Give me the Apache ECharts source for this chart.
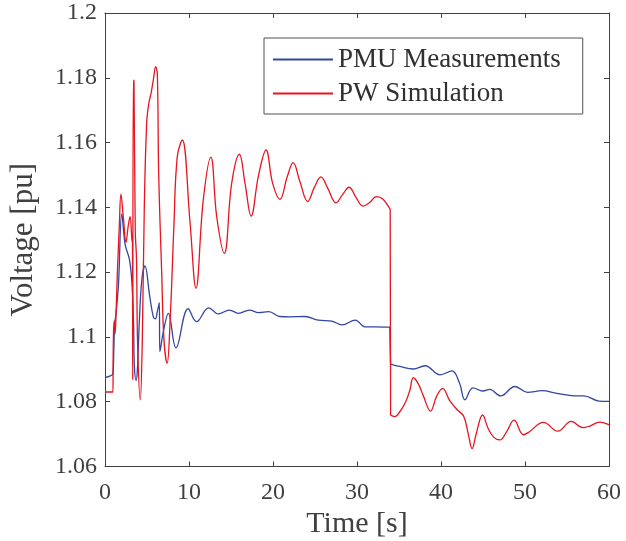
<!DOCTYPE html>
<html>
<head>
<meta charset="utf-8">
<script src="https://cdn.jsdelivr.net/npm/echarts@6/dist/echarts.min.js"></script>
<style>html,body{margin:0;padding:0;background:#fff;}#c{width:626px;height:541px;}</style>
</head>
<body>
<div id="c"></div>
<script>
// Data
const xTicks = [0, 10, 20, 30, 40, 50, 60];
const yTicks = [1.06, 1.08, 1.1, 1.12, 1.14, 1.16, 1.18, 1.2];
const seriesNames = ['PMU Measurements', 'PW Simulation'];

const pmuT = [0, 0.5, 0.95, 1.05, 1.15, 1.3, 1.6, 2.0, 2.4, 2.9, 3.2, 3.4, 3.5, 3.7, 3.85, 4.1, 4.4, 4.76, 5.3, 5.75, 6.0, 6.25, 6.4, 6.47, 6.52, 6.6, 6.94, 7.54, 8.45, 9.9, 10.9, 12.35, 13.5, 14.8, 15.9, 17.2, 18.3, 19.5, 20.8, 22.0, 23.8, 25.4, 27.0, 28.2, 29.8, 30.95, 32.3, 33.9, 33.95, 34.0, 34.05, 35.1, 36.7, 38.1, 39.9, 41.3, 42.2, 42.85, 43.8, 45.0, 45.8, 47.1, 48.8, 50.3, 52.0, 53.8, 55.9, 57.0, 58.8, 60];
const pmuV = [1.0875, 1.0878, 1.0887, 1.0960, 1.1040, 1.1070, 1.1160, 1.1380, 1.1285, 1.1240, 1.1170, 1.1040, 1.0909, 1.0866, 1.0896, 1.1055, 1.1180, 1.1219, 1.1130, 1.1062, 1.1056, 1.1081, 1.1098, 1.1106, 1.0955, 1.0962, 1.1015, 1.1073, 1.0966, 1.1087, 1.1047, 1.1090, 1.1071, 1.1083, 1.1073, 1.1083, 1.1075, 1.1078, 1.1063, 1.1062, 1.1063, 1.1052, 1.1049, 1.1037, 1.1052, 1.1031, 1.1031, 1.1030, 1.1030, 1.0916, 1.0915, 1.0909, 1.0901, 1.0911, 1.0883, 1.0895, 1.0858, 1.0806, 1.0843, 1.0833, 1.0838, 1.0818, 1.0847, 1.0829, 1.0834, 1.0826, 1.0818, 1.0818, 1.0802, 1.0801];

const pwT = [0, 0.95, 0.98, 1.0, 1.1, 1.2, 1.3, 1.47, 1.7, 1.9, 2.2, 2.5, 2.75, 2.98, 3.2, 3.27, 3.3, 3.37, 3.45, 3.6, 3.75, 3.88, 4.2, 4.44, 4.68, 4.96, 5.2, 5.48, 5.75, 6.03, 6.23, 6.39, 6.75, 7.02, 7.4, 7.74, 8.2, 8.6, 9.2, 10.1, 10.83, 11.7, 12.6, 13.3, 14.2, 15.08, 16.0, 16.67, 17.4, 18.25, 19.17, 19.96, 20.83, 21.7, 22.4, 23.2, 24.13, 24.9, 25.7, 26.5, 27.5, 28.3, 29.05, 29.9, 30.7, 31.5, 32.3, 33.1, 33.9, 33.95, 34.0, 34.05, 34.5, 35.1, 35.8, 36.3, 36.7, 37.3, 37.9, 38.75, 39.5, 40.2, 41.0, 41.9, 42.7, 43.25, 43.7, 44.2, 44.95, 45.6, 46.3, 47.0, 47.8, 48.7, 49.8, 50.4, 52.2, 53.9, 55.5, 56.9, 57.7, 58.9, 60];
const pwV = [1.083, 1.083, 1.083, 1.100, 1.105, 1.101, 1.106, 1.1197, 1.134, 1.1441, 1.1364, 1.1292, 1.134, 1.1371, 1.1302, 1.1290, 1.0867, 1.1793, 1.1790, 1.1330, 1.1240, 1.0980, 1.0806, 1.0991, 1.1404, 1.1660, 1.1719, 1.1752, 1.1793, 1.1834, 1.1813, 1.1505, 1.1197, 1.0991, 1.0919, 1.1043, 1.1340, 1.1556, 1.1608, 1.1361, 1.1150, 1.1423, 1.1555, 1.1371, 1.1258, 1.1474, 1.1564, 1.1474, 1.1373, 1.1495, 1.1577, 1.1474, 1.1425, 1.1495, 1.1538, 1.1480, 1.1418, 1.1460, 1.1494, 1.1460, 1.1414, 1.1440, 1.1462, 1.1430, 1.1404, 1.1415, 1.1433, 1.1425, 1.1396, 1.1392, 1.0759, 1.0758, 1.0754, 1.0769, 1.0800, 1.0836, 1.0874, 1.0855, 1.0818, 1.0771, 1.0818, 1.0841, 1.0805, 1.0776, 1.0755, 1.0700, 1.0655, 1.0702, 1.0759, 1.0718, 1.0690, 1.0682, 1.0707, 1.0743, 1.0698, 1.0705, 1.0736, 1.0709, 1.0739, 1.0720, 1.0725, 1.0737, 1.0729];

const FONT = 'Liberation Serif';
const AX = '#404040';

function zip(a, b) { return a.map((t, i) => [t, b[i]]); }
const xMin = xTicks[0], xMax = xTicks[xTicks.length - 1], xInt = xTicks[1] - xTicks[0];
const yMin = yTicks[0], yMax = yTicks[yTicks.length - 1], yInt = +(yTicks[1] - yTicks[0]).toFixed(4);
const fmtY = v => String(parseFloat(v.toFixed(2)));

const baseX = {
  type: 'value', min: xMin, max: xMax, interval: xInt,
  axisLine: { show: true, onZero: false, lineStyle: { color: AX, width: 1 } },
  axisTick: { show: true, inside: true, length: 5, lineStyle: { color: AX } },
  splitLine: { show: false }
};
const baseY = {
  type: 'value', min: yMin, max: yMax, interval: yInt,
  axisLine: { show: true, onZero: false, lineStyle: { color: AX, width: 1 } },
  axisTick: { show: true, inside: true, length: 5, lineStyle: { color: AX } },
  splitLine: { show: false }
};

const chart = echarts.init(document.getElementById('c'), null, { renderer: 'canvas' });
chart.setOption({
  animation: false,
  backgroundColor: '#ffffff',
  grid: { left: 105, right: 17, top: 13, bottom: 74.5, containLabel: false, outerBoundsMode: 'none' },
  legend: {
    data: seriesNames,
    orient: 'vertical',
    left: 264, top: 38,
    itemWidth: 60, itemHeight: 26, itemGap: 7,
    padding: [8, 22, 7, 8],
    borderColor: '#505050', borderWidth: 1, borderRadius: 0,
    backgroundColor: '#ffffff',
    itemStyle: { opacity: 0 },
    textStyle: { fontFamily: FONT, fontSize: 27, color: '#303030', lineHeight: 26 }
  },
  xAxis: [
    Object.assign({}, baseX, {
      position: 'bottom',
      name: 'Time [s]', nameLocation: 'middle', nameGap: 38,
      nameTextStyle: { fontFamily: FONT, fontSize: 30, color: AX },
      axisLabel: { show: true, margin: 14, fontFamily: FONT, fontSize: 24, color: AX, showMinLabel: true, showMaxLabel: true }
    }),
    Object.assign({}, baseX, { position: 'top', axisLabel: { show: false } })
  ],
  yAxis: [
    Object.assign({}, baseY, {
      position: 'left',
      name: 'Voltage [pu]', nameLocation: 'middle', nameGap: 66,
      nameTextStyle: { fontFamily: FONT, fontSize: 31, color: AX },
      axisLabel: { show: true, margin: 8, fontFamily: FONT, fontSize: 24, color: AX, formatter: fmtY, showMinLabel: true, showMaxLabel: true }
    }),
    Object.assign({}, baseY, { position: 'right', axisLabel: { show: false } })
  ],
  series: [
    {
      name: seriesNames[0], type: 'line', xAxisIndex: 0, yAxisIndex: 0,
      data: zip(pmuT, pmuV), symbol: 'none', smooth: 0.4,
      lineStyle: { color: '#3346a1', width: 1.3 }, itemStyle: { color: '#3346a1' }, z: 3
    },
    {
      name: seriesNames[1], type: 'line', xAxisIndex: 0, yAxisIndex: 0,
      data: zip(pwT, pwV), symbol: 'none', smooth: 0.4,
      lineStyle: { color: '#e8141f', width: 1.3 }, itemStyle: { color: '#e8141f' }, z: 4
    }
  ]
});
</script>
</body>
</html>
